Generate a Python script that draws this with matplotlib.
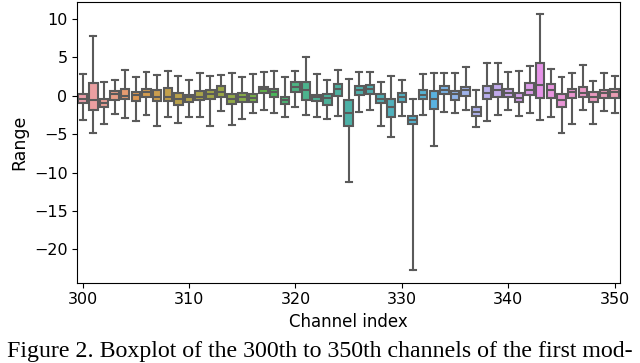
import matplotlib
matplotlib.use("Agg")
import matplotlib.pyplot as plt
import seaborn as sns

## channels 300..350, box stats
channels = list(range(300, 351))
whis_hi = [2.8, 7.8, 1.8, 2.0, 3.3, 2.5, 3.1, 2.7, 3.2, 2.6,
           2.0, 2.95, 2.6, 2.7, 2.95, 2.5, 2.8, 3.1, 3.2, 2.4,
           3.2, 5.1, 2.8, 2.0, 3.3, 2.2, 3.1, 3.1, 1.8, 2.55,
           2.1, -0.45, 2.8, 3.0, 2.95, 2.95, 3.8, 0.8, 4.3, 4.3,
           3.1, 3.2, 3.85, 10.6, 3.5, 2.45, 3.0, 4.0, 1.95, 3.0,
           2.55]
q3 = [0.2, 1.7, -0.4, 0.65, 0.95, 0.5, 0.85, 0.75, 1.0, 0.35,
      0.1, 0.65, 0.8, 1.25, 0.2, 0.35, 0.2, 1.2, 0.95, -0.15,
      1.8, 1.75, 0.1, 0.2, 1.5, -0.5, 1.25, 1.45, 0.2, -0.4,
      0.4, -2.6, 0.75, 0.65, 1.25, 0.65, 1.15, -1.5, 1.25, 1.5,
      0.95, 0.35, 1.7, 4.3, 1.5, 0.2, 0.95, 1.15, 0.5, 0.8,
      0.95]
med = [-0.43, -0.6, -0.9, 0.2, 0.0, 0.1, 0.5, -0.1, -0.1, -0.45,
       -0.1, -0.1, 0.2, 0.5, -0.45, -0.1, -0.25, 0.95, 0.55, -0.55,
       1.1, 0.75, -0.1, -0.35, 0.9, -2.2, 0.75, 0.85, -0.4, -1.5,
       -0.2, -3.15, 0.1, -0.45, 0.8, 0.2, 0.75, -2.1, 0.4, 0.75,
       0.3, -0.25, 0.75, 1.4, 0.75, -0.55, 0.5, 0.4, -0.2, 0.3,
       0.5]
q1 = [-0.9, -1.8, -1.4, -0.55, -0.4, -0.7, -0.2, -0.65, -0.65, -1.25,
      -0.8, -0.5, -0.4, -0.1, -1.1, -0.85, -0.8, 0.35, -0.2, -1.1,
      0.5, -0.55, -0.7, -1.2, -0.05, -3.9, 0.1, 0.2, -1.0, -2.7,
      -0.8, -3.7, -0.45, -1.75, 0.2, -0.5, -0.05, -2.65, -0.4, -0.15,
      -0.15, -0.8, 0.1, -0.25, -0.25, -1.5, -0.35, -0.15, -0.85, -0.35,
      -0.35]
whis_lo = [-3.2, -4.8, -3.7, -2.4, -2.95, -3.3, -2.5, -3.9, -2.7, -3.6,
           -2.7, -2.75, -4.0, -2.0, -3.8, -3.0, -2.3, -1.8, -2.3, -2.8,
           -1.45, -2.5, -2.7, -3.0, -2.6, -11.3, -2.1, -1.9, -3.95, -5.4,
           -2.65, -22.7, -2.5, -6.5, -2.05, -2.3, -1.8, -4.1, -3.25, -2.45,
           -1.8, -2.65, -2.3, -3.2, -2.75, -4.8, -3.7, -1.8, -3.7, -2.0,
           -2.2]

stats = []
for i in range(len(channels)):
    stats.append(dict(whislo=whis_lo[i], q1=q1[i], med=med[i],
                      q3=q3[i], whishi=whis_hi[i], fliers=[]))

colors = [sns.desaturate(c, 0.75) for c in sns.husl_palette(len(channels), l=0.72)]
gray = "#5a5a5a"

fig = plt.figure(figsize=(6.4, 3.63), dpi=100)
ax = fig.add_axes([0.1208, 0.2212, 0.848, 0.7741])

pos = list(range(len(channels)))
lw = 1.5
bp = ax.bxp(stats, positions=pos, widths=0.8, capwidths=0.56,
            patch_artist=True, showfliers=False,
            boxprops=dict(edgecolor=gray, linewidth=lw),
            whiskerprops=dict(color=gray, linewidth=lw),
            capprops=dict(color=gray, linewidth=lw),
            medianprops=dict(color=gray, linewidth=lw))
for box, c in zip(bp["boxes"], colors):
    box.set_facecolor(c)

ax.set_xlim(-0.5, len(channels) - 0.5)
ax.set_xticks(pos[::10])
ax.set_xticklabels([str(c) for c in channels[::10]])
ax.set_yticks([-20, -15, -10, -5, 0, 5, 10])
ax.tick_params(labelsize=11.5)
ax.set_xlabel("Channel index", fontsize=12)
ax.set_ylabel("Range", fontsize=12.5)

fig.text(0.5, 0.033, "Figure 2. Boxplot of the 300th to 350th channels of the first mod-",
         ha="center", va="center", fontsize=17.2, family="Liberation Serif")

fig.savefig("out.png", dpi=100)
